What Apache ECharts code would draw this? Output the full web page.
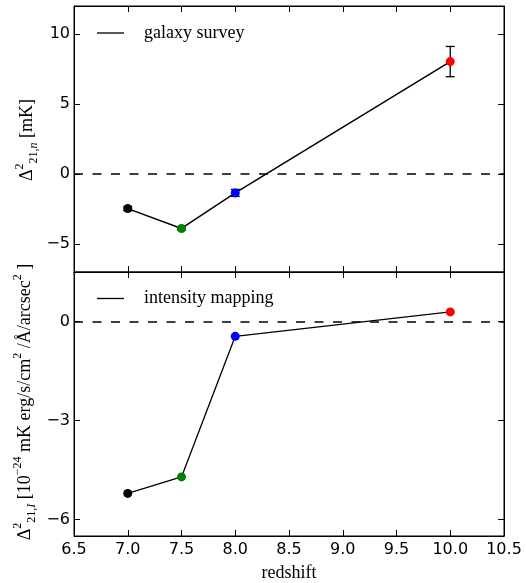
<!DOCTYPE html>
<html>
<head>
<meta charset="utf-8">
<script src="https://cdn.jsdelivr.net/npm/echarts@6/dist/echarts.min.js"></script>
<style>
html,body{margin:0;padding:0;background:#fff;}
#chart{width:526px;height:583px;}
</style>
</head>
<body>
<div id="chart"></div>
<script>
// ---- data ----
const redshift = [7.0, 7.5, 8.0, 10.0];
const pointColors = ['#000000', '#008000', '#0000ff', '#ff0000'];
const galaxySurvey = [-2.47, -3.89, -1.35, 8.03];
const galaxySurveyErr = [0.15, 0.12, 0.25, 1.08];
const intensityMapping = [-5.21, -4.71, -0.45, 0.29];
const xTickMin = 6.5, xTickMax = 10.5, xTickStep = 0.5;
const topYRange = [-7, 12];
const topYTicks = [-5, 0, 5, 10];
const bottomYRange = [-6.5, 1.5];
const bottomYTicks = [-6, -3, 0];
const legendNames = ['galaxy survey', 'intensity mapping'];

const SERIF = 'Liberation Serif';
const SANS = 'DejaVu Sans';
const minus = v => String(v).replace('-', '\u2212');

const GL = 74, GW = 430;
const grids = [
  {left: GL, width: GW, top: 6, height: 266},
  {left: GL, width: GW, top: 272, height: 266}
];

function xAx(gridIndex, position, showLabels) {
  return {
    type: 'value', gridIndex, position,
    min: xTickMin, max: xTickMax, interval: xTickStep,
    axisLine: {show: true, onZero: false, lineStyle: {color: '#000', width: 1}},
    axisTick: {show: true, inside: true, length: 6, lineStyle: {color: '#000', width: 1}},
    axisLabel: {show: showLabels, color: '#000', fontFamily: SANS, fontSize: 16, margin: 6,
      formatter: v => v.toFixed(1)},
    splitLine: {show: false}
  };
}
function yAx(gridIndex, position, range, ticks, showLabels) {
  return {
    type: 'value', gridIndex, position,
    min: range[0], max: range[1],
    axisLine: {show: true, onZero: false, lineStyle: {color: '#000', width: 1}},
    axisTick: {show: true, inside: true, length: 6, customValues: ticks, lineStyle: {color: '#000', width: 1}},
    axisLabel: {show: showLabels, customValues: ticks, color: '#000', fontFamily: SANS, fontSize: 16, margin: 4,
      formatter: v => minus(v)},
    splitLine: {show: false}
  };
}

const xAxes = [
  xAx(0, 'bottom', false),
  xAx(0, 'top', false),
  Object.assign(xAx(1, 'bottom', true), {
    name: 'redshift', nameLocation: 'middle', nameGap: 28,
    nameTextStyle: {color: '#000', fontFamily: SERIF, fontSize: 18}
  }),
  xAx(1, 'top', false)
];
const yAxes = [
  yAx(0, 'left', topYRange, topYTicks, true),
  yAx(0, 'right', topYRange, topYTicks, false),
  yAx(1, 'left', bottomYRange, bottomYTicks, true),
  yAx(1, 'right', bottomYRange, bottomYTicks, false)
];

function pts(ys) {
  return redshift.map((x, i) => ({value: [x, ys[i]], itemStyle: {color: pointColors[i]}}));
}
const zeroLine = {
  silent: true, symbol: 'none', label: {show: false},
  lineStyle: {color: '#000', width: 1.5, type: [9, 9.5]},
  data: [{yAxis: 0}]
};

const errData = redshift.map((x, i) => [x, galaxySurvey[i] - galaxySurveyErr[i], galaxySurvey[i] + galaxySurveyErr[i]]);

const series = [
  {
    type: 'custom', xAxisIndex: 0, yAxisIndex: 0, z: 2, silent: true,
    data: errData,
    renderItem: (params, api) => {
      const x = api.value(0);
      const lo = api.coord([x, api.value(1)]);
      const hi = api.coord([x, api.value(2)]);
      const hw = 4.5;
      const st = {stroke: '#000', lineWidth: 1.3};
      return {type: 'group', children: [
        {type: 'line', shape: {x1: lo[0], y1: lo[1], x2: hi[0], y2: hi[1]}, style: st},
        {type: 'line', shape: {x1: lo[0]-hw, y1: lo[1], x2: lo[0]+hw, y2: lo[1]}, style: st},
        {type: 'line', shape: {x1: hi[0]-hw, y1: hi[1], x2: hi[0]+hw, y2: hi[1]}, style: st}
      ]};
    }
  },
  {
    name: legendNames[0], type: 'line', xAxisIndex: 0, yAxisIndex: 0, z: 3,
    data: pts(galaxySurvey), symbol: 'circle', symbolSize: 9, showSymbol: true,
    itemStyle: {color: '#000'}, lineStyle: {color: '#000', width: 1.5},
    markLine: zeroLine
  },
  {
    name: legendNames[1], type: 'line', xAxisIndex: 2, yAxisIndex: 2, z: 3,
    data: pts(intensityMapping), symbol: 'circle', symbolSize: 9, showSymbol: true,
    itemStyle: {color: '#000'}, lineStyle: {color: '#000', width: 1.3},
    markLine: zeroLine
  }
];

const richLab = {
  m: {fontFamily: SERIF, fontSize: 18, color: '#000', lineHeight: 26},
  sup: {fontFamily: SERIF, fontSize: 12, color: '#000', verticalAlign: 'top', lineHeight: 26},
  sub: {fontFamily: SERIF, fontSize: 12, color: '#000', verticalAlign: 'bottom', lineHeight: 26},
  subi: {fontFamily: SERIF, fontSize: 12, fontStyle: 'italic', color: '#000', verticalAlign: 'bottom', lineHeight: 26}
};

const graphic = [
  {type: 'line', shape: {x1: 97, y1: 33, x2: 124, y2: 33}, style: {stroke: '#000', lineWidth: 1.3}},
  {type: 'text', x: 144, y: 33, style: {text: legendNames[0], fontFamily: SERIF, fontSize: 18, fill: '#000', verticalAlign: 'middle'}},
  {type: 'line', shape: {x1: 97, y1: 298.5, x2: 124, y2: 298.5}, style: {stroke: '#000', lineWidth: 1.3}},
  {type: 'text', x: 144, y: 298.5, style: {text: legendNames[1], fontFamily: SERIF, fontSize: 18, fill: '#000', verticalAlign: 'middle'}},
  {type: 'text', x: 27, y: 140, rotation: Math.PI / 2,
    style: {text: '{m|\u0394}{sup|2}{sub|21,}{subi|n}{m| [mK]}', rich: richLab, align: 'center', verticalAlign: 'middle'}},
  {type: 'text', x: 25, y: 402, rotation: Math.PI / 2,
    style: {text: '{m|\u0394}{sup|2}{sub|21,}{subi|I}{m| [10}{sup|\u221224}{m| mK erg/s/cm}{sup|2}{m| /\u00C5/arcsec}{sup|2}{m| ]}', rich: richLab, align: 'center', verticalAlign: 'middle'}}
];

const chart = echarts.init(document.getElementById('chart'), null, {renderer: 'canvas'});
chart.setOption({
  animation: false,
  backgroundColor: '#fff',
  grid: grids.map(g => Object.assign({show: true, borderColor: '#000', borderWidth: 1, containLabel: false}, g)),
  xAxis: xAxes,
  yAxis: yAxes,
  series,
  graphic
});
</script>
</body>
</html>
